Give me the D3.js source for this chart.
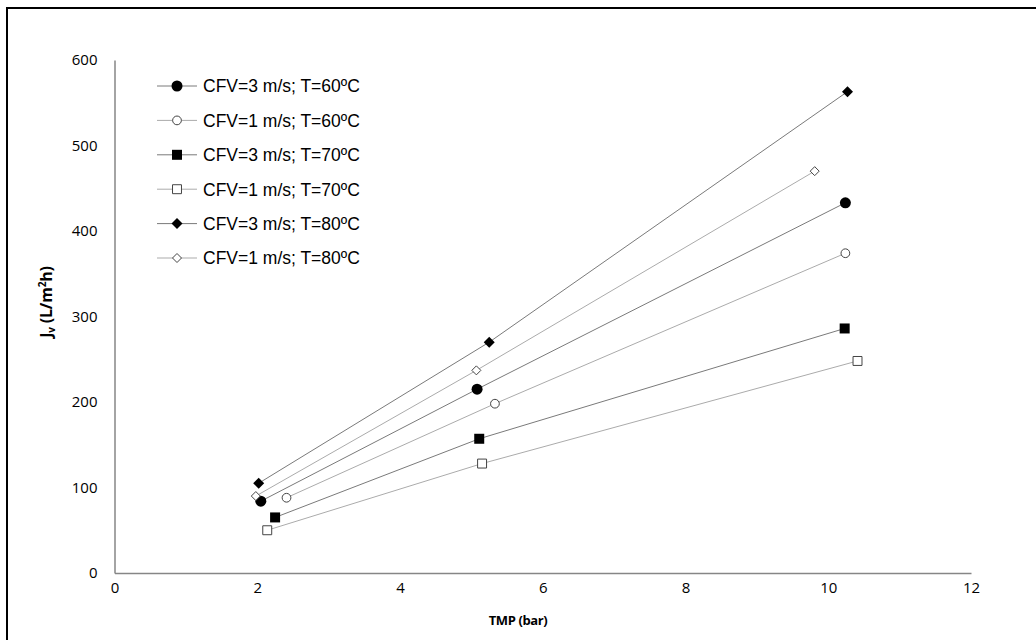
<!DOCTYPE html>
<html>
<head>
<meta charset="utf-8">
<script src="https://cdn.jsdelivr.net/npm/d3@7"></script>
<style>
  body { margin: 0; background: #fff; }
  svg { display: block; }
  .tick text { font-family: 'Open Sans', sans-serif; font-size: 15px; fill: #000; }
</style>
</head>
<body>
<div id="chart"></div>
<script>
const seriesNames = [
  'CFV=3 m/s; T=60ºC',
  'CFV=1 m/s; T=60ºC',
  'CFV=3 m/s; T=70ºC',
  'CFV=1 m/s; T=70ºC',
  'CFV=3 m/s; T=80ºC',
  'CFV=1 m/s; T=80ºC'
]
const tmpValues = [
  [2.05, 5.08, 10.24],
  [2.41, 5.33, 10.24],
  [2.25, 5.11, 10.23],
  [2.14, 5.15, 10.41],
  [2.02, 5.25, 10.27],
  [1.98, 5.07, 9.81]
]
const fluxValues = [
  [84, 215, 433],
  [88, 198, 374],
  [65, 157, 286],
  [50, 128, 248],
  [105, 270, 563],
  [90, 237, 470]
]
const markerShapes = ['circle', 'circle', 'square', 'square', 'diamond', 'diamond']
const markerFilled = [true, false, true, false, true, false]
const xTicks = [0, 2, 4, 6, 8, 10, 12]
const yTicks = [0, 100, 200, 300, 400, 500, 600]

const width = 1036
const height = 640
const margin = { top: 60, right: 65, bottom: 67, left: 114.5 }
const titleFont = "'Open Sans', sans-serif"

const svg = d3.select('#chart')
  .append('svg')
  .attr('width', width)
  .attr('height', height)

// outer frame (only left/top edges visible)
svg.append('path')
  .attr('d', `M7,${height + 5}V8H${width + 5}`)
  .attr('fill', 'none')
  .attr('stroke', '#000')
  .attr('stroke-width', 2)

const x = d3.scaleLinear()
  .domain([0, 12])
  .range([margin.left, width - margin.right])

const y = d3.scaleLinear()
  .domain([0, 600])
  .range([height - margin.bottom, margin.top])

const xAxis = g =>
  g
    .attr('transform', `translate(0,${height - margin.bottom})`)
    .call(d3.axisBottom(x).tickValues(xTicks).tickSize(0).tickPadding(9))
    .call(g => g.select('.domain').attr('stroke', '#868686').attr('stroke-width', 1.5))

const yAxis = g =>
  g
    .attr('transform', `translate(${margin.left},0)`)
    .call(d3.axisLeft(y).tickValues(yTicks).tickSize(0).tickPadding(17))
    .call(g => g.select('.domain').attr('stroke', '#868686').attr('stroke-width', 1.5))

svg.append('g').call(xAxis)
svg.append('g').call(yAxis)

svg.append('text')
  .attr('x', 518)
  .attr('y', 625)
  .attr('text-anchor', 'middle')
  .style('font-family', titleFont)
  .style('font-size', '13px')
  .style('font-weight', 'bold')
  .style('letter-spacing', '-0.4px')
  .text('TMP (bar)')

const yTitle = svg.append('text')
  .attr('transform', 'translate(52,302) rotate(-90)')
  .attr('text-anchor', 'middle')
  .style('font-family', titleFont)
  .style('font-size', '16px')
  .style('font-weight', 'bold')
  .style('letter-spacing', '-0.2px')
yTitle.append('tspan').text('J')
yTitle.append('tspan').attr('dy', 3).style('font-size', '10px').text('v')
yTitle.append('tspan').attr('dy', -3).text(' (L/m')
yTitle.append('tspan').attr('dy', -6).style('font-size', '10px').text('2')
yTitle.append('tspan').attr('dy', 6).text('h)')

const lineColor = i => (markerFilled[i] ? '#7a7a7a' : '#ababab')

// rotated-square diamond of half-diagonal r
const diamond = r => `M0,${-r}L${r},0L0,${r}L${-r},0Z`

const symbolFor = (shape, filled) => {
  if (shape === 'circle') return d3.symbol(d3.symbolCircle, filled ? 95 : 60)()
  if (shape === 'square') return d3.symbol(d3.symbolSquare, filled ? 100 : 80)()
  return diamond(filled ? 5.5 : 4.5)
}

const line = d3.line()
  .x(d => x(d[0]))
  .y(d => y(d[1]))

const plot = svg.append('g').classed('parent', true)

seriesNames.forEach((name, i) => {
  const pts = tmpValues[i].map((t, j) => [t, fluxValues[i][j]])
  plot.append('path')
    .datum(pts)
    .attr('d', line)
    .attr('fill', 'none')
    .attr('stroke', lineColor(i))
    .attr('stroke-width', 1)
})

seriesNames.forEach((name, i) => {
  const pts = tmpValues[i].map((t, j) => [t, fluxValues[i][j]])
  plot.selectAll(null)
    .data(pts)
    .enter()
    .append('path')
    .attr('transform', d => `translate(${x(d[0])},${y(d[1])})`)
    .attr('d', symbolFor(markerShapes[i], markerFilled[i]))
    .attr('fill', markerFilled[i] ? '#000' : '#fff')
    .attr('stroke', markerFilled[i] ? 'none' : '#444')
    .attr('stroke-width', 1)
})

// legend
const legend = svg.append('g').attr('transform', 'translate(157,86)')
seriesNames.forEach((name, i) => {
  const row = legend.append('g').attr('transform', `translate(0,${i * 34.4})`)
  row.append('line')
    .attr('x1', 0).attr('x2', 40)
    .attr('stroke', lineColor(i))
    .attr('stroke-width', 1)
  row.append('path')
    .attr('transform', 'translate(20,0)')
    .attr('d', symbolFor(markerShapes[i], markerFilled[i]))
    .attr('fill', markerFilled[i] ? '#000' : '#fff')
    .attr('stroke', markerFilled[i] ? 'none' : '#444')
  row.append('text')
    .attr('x', 46)
    .attr('dy', '0.36em')
    .style('font-family', "'Liberation Sans', Arial, sans-serif")
    .style('font-size', '17.5px')
    .text(name)
})
</script>
</body>
</html>
